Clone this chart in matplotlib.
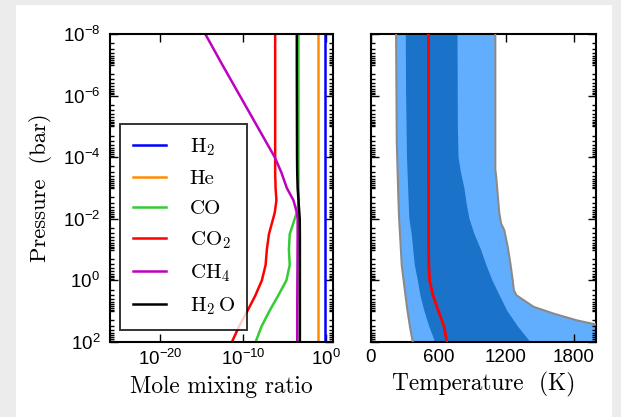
import numpy as np
import matplotlib
matplotlib.use("Agg")
import matplotlib.pyplot as plt
from matplotlib.ticker import LogLocator, NullLocator, FixedLocator, NullFormatter
from matplotlib.patches import Rectangle

plt.rcParams["mathtext.fontset"] = "custom"
plt.rcParams["mathtext.rm"] = "cmr10"
plt.rcParams["mathtext.it"] = "cmr10"
plt.rcParams["mathtext.sf"] = "Liberation Sans"
plt.rcParams["axes.unicode_minus"] = True

# ---- abundance profiles (log10 of mole mixing ratio) on a shared pressure grid ----
log_p_chem = [-8, -7, -6, -5, -4, -3.5, -3, -2.6, -2.2, -2, -1.5, -1, -0.5, 0, 0.5, 1, 1.5, 2]
h2_log  = [-0.2] * 18
he_log  = [-0.96] * 18
co_log  = [-3.35, -3.35, -3.35, -3.35, -3.35, -3.35, -3.35, -3.3, -3.55, -3.8,
           -4.4, -4.5, -4.4, -4.8, -5.8, -6.85, -7.8, -8.5]
co2_log = [-6.15, -6.15, -6.15, -6.15, -6.15, -6.15, -6.1, -6.0, -6.2, -6.4,
           -6.9, -7.15, -7.3, -7.75, -8.55, -9.5, -10.5, -11.35]
ch4_log = [-14.55, -12.5, -10.4, -8.3, -6.2, -5.4, -4.75, -3.95, -3.55, -3.45,
           -3.45, -3.46, -3.47, -3.48, -3.49, -3.5, -3.5, -3.5]
h2o_log = [-3.55, -3.55, -3.54, -3.53, -3.52, -3.5, -3.45, -3.35, -3.25, -3.2,
           -3.18, -3.18, -3.18, -3.18, -3.18, -3.18, -3.18, -3.18]

species = [("H$_2$", h2_log, "#0000ff"),
           ("He", he_log, "#ff8c00"),
           ("CO", co_log, "#33cc33"),
           ("CO$_2$", co2_log, "#ff0000"),
           ("CH$_4$", ch4_log, "#bf00bf"),
           ("H$_2\\,$O", h2o_log, "#000000")]

# ---- temperature profile: median and 1-sigma / 2-sigma envelopes ----
log_p_lo2 = [-8, -4.5, -2.6, -2, -1.5, -0.5, 0, 0.5, 1, 1.5, 2]
t_lo2     = [223, 229, 244, 250, 258, 273, 290, 307, 325, 346, 371]
log_p_lo1 = [-8, -6, -4, -3, -2, -1.5, -0.5, 0, 0.5, 1, 1.5, 2]
t_lo1     = [309, 312, 320, 330, 341, 362, 389, 416, 440, 475, 518, 570]
log_p_med = [-8, -1, -0.5, 0, 0.5, 1, 1.5, 2]
t_med     = [511, 512, 514, 521, 552, 600, 650, 674]
log_p_hi1 = [-8, -5, -4, -3.5, -3, -2.5, -2, -1.5, -1, -0.5, 0, 0.5, 1, 1.5, 2]
t_hi1     = [769, 772, 778, 800, 830, 850, 875, 920, 978, 1025, 1079, 1145, 1213, 1307, 1417]
log_p_hi2 = [-8, -3.6, -3.4, -2.8, -2.2, -1.85, -1.63, -1.1, -0.55, 0, 0.32, 0.48,
             0.6, 0.86, 1.08, 1.3, 1.43, 2]
t_hi2     = [1105, 1105, 1112, 1126, 1140, 1156, 1185, 1215, 1239, 1260, 1270, 1292,
             1340, 1447, 1625, 1833, 1997, 2700]

y_ticks = [1e-8, 1e-6, 1e-4, 1e-2, 1e0, 1e2]
y_labels = [r"$\mathsf{10^{-8}}$", r"$\mathsf{10^{-6}}$", r"$\mathsf{10^{-4}}$",
            r"$\mathsf{10^{-2}}$", r"$\mathsf{10^{0}}$", r"$\mathsf{10^{2}}$"]
x_ticks_chem = [1e-20, 1e-10, 1e0]
x_labels_chem = [r"$\mathsf{10^{-20}}$", r"$\mathsf{10^{-10}}$", r"$\mathsf{10^{0}}$"]
x_ticks_temp = [0, 600, 1200, 1800]

W, H = 621, 417
fig = plt.figure(figsize=(W / 100, H / 100), dpi=100, facecolor="#ececec")
fig.patches.append(Rectangle((16 / W, 0), 596 / W, 412 / H, transform=fig.transFigure,
                             facecolor="white", edgecolor="none", zorder=0))

ax1 = fig.add_axes([110 / W, 75 / H, 223 / W, 308 / H])
ax2 = fig.add_axes([371 / W, 75 / H, 225 / W, 308 / H])

serif = {"family": "cmr10"}
tick_font = "Liberation Sans"

for label, vals, color in species:
    ax1.plot(10.0 ** np.array(vals), 10.0 ** np.array(log_p_chem), color=color, lw=1.8,
             label=label)

ax1.set_xscale("log")
ax1.set_yscale("log")
ax1.set_xlim(1e-26, 10 ** 0.8)
ax1.set_ylim(1e2, 1e-8)
ax1.xaxis.set_major_locator(FixedLocator(x_ticks_chem))
ax1.set_xticklabels(x_labels_chem)
ax1.xaxis.set_minor_locator(NullLocator())
ax1.set_xlabel("Mole mixing ratio", fontdict=serif, fontsize=16.8, labelpad=5)
ax1.set_ylabel("Pressure  (bar)", fontdict=serif, fontsize=16.3, labelpad=8)

leg = ax1.legend(loc="lower left", bbox_to_anchor=(0.045, 0.04), frameon=True,
                 fancybox=False, edgecolor="black", prop={"family": "cmr10", "size": 15},
                 handlelength=1.6, handletextpad=1.15, labelspacing=0.55,
                 borderpad=0.6, borderaxespad=0.0)
leg.get_frame().set_linewidth(1.4)

p_lo2 = 10.0 ** np.array(log_p_lo2)
p_hi2 = 10.0 ** np.array(log_p_hi2)
p_lo1 = 10.0 ** np.array(log_p_lo1)
p_hi1 = 10.0 ** np.array(log_p_hi1)

ax2.fill(np.concatenate([t_lo2, t_hi2[::-1]]), np.concatenate([p_lo2, p_hi2[::-1]]),
         color="#62aefe", lw=0, zorder=1)
ax2.fill(np.concatenate([t_lo1, t_hi1[::-1]]), np.concatenate([p_lo1, p_hi1[::-1]]),
         color="#1a73c9", lw=0, zorder=2)
ax2.plot(t_lo2, p_lo2, color="#8a8a8a", lw=1.5, zorder=3)
ax2.plot(t_hi2, p_hi2, color="#8a8a8a", lw=1.5, zorder=3)
ax2.plot(t_med, 10.0 ** np.array(log_p_med), color="#ff0000", lw=2.0, zorder=4)

ax2.set_yscale("log")
ax2.set_xlim(0, 2000)
ax2.set_ylim(1e2, 1e-8)
ax2.set_xticks(x_ticks_temp)
ax2.set_xticklabels([str(t) for t in x_ticks_temp])
ax2.xaxis.set_minor_locator(NullLocator())
ax2.set_xlabel("Temperature  (K)", fontdict=serif, fontsize=16.8, labelpad=4)

for ax in (ax1, ax2):
    ax.yaxis.set_major_locator(FixedLocator(y_ticks))
    ax.yaxis.set_minor_locator(LogLocator(base=10, subs=np.arange(1, 10), numticks=100))
    ax.yaxis.set_minor_formatter(NullFormatter())
    ax.tick_params(which="both", direction="in", top=True, right=True, width=1.0)
    ax.tick_params(which="major", length=6)
    ax.tick_params(which="minor", length=3)
    ax.tick_params(axis="x", pad=5)
    ax.tick_params(axis="y", pad=7)
    for sp in ax.spines.values():
        sp.set_linewidth(1.5)
    ax.set_zorder(2)

ax1.set_yticklabels(y_labels)
ax2.set_yticklabels([])
for lbl in ax1.get_xticklabels() + ax1.get_yticklabels():
    lbl.set_fontsize(13.5)
for lbl in ax2.get_xticklabels():
    lbl.set_fontsize(13.5)
    lbl.set_fontfamily(tick_font)

fig.savefig("out.png", dpi=100, facecolor=fig.get_facecolor())
